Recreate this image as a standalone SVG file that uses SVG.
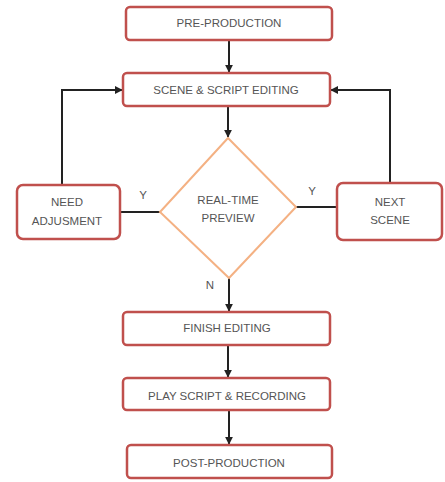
<svg xmlns="http://www.w3.org/2000/svg" width="445" height="482" viewBox="0 0 445 482">
<defs>
<marker id="ah" viewBox="0 0 10 10" refX="9" refY="5" markerWidth="4" markerHeight="4" orient="auto" markerUnits="strokeWidth">
<path d="M0,0 L10,5 L0,10 z" fill="#222"/>
</marker>
<style>
.box{fill:#fff;stroke:#c0504d;stroke-width:2.5}
.dia{fill:#fff;stroke:#f4b183;stroke-width:2}
.t{font-family:"Liberation Sans",Arial,sans-serif;font-size:11.5px;fill:#555;text-anchor:middle}
.c{fill:none;stroke:#222;stroke-width:2}
</style>
</defs>
<rect width="445" height="482" fill="#fff"/>
<g id="connectors">
<line class="c" x1="229" y1="40" x2="229" y2="72" marker-end="url(#ah)"/>
<line class="c" x1="228" y1="106" x2="228" y2="137" marker-end="url(#ah)"/>
<line class="c" x1="120" y1="212" x2="160" y2="212"/>
<line class="c" x1="296" y1="207" x2="337" y2="207"/>
<polyline class="c" points="62,185 62,90 122,90" marker-end="url(#ah)"/>
<polyline class="c" points="390,183 390,90 331,90" marker-end="url(#ah)"/>
<line class="c" x1="229" y1="278" x2="229" y2="311" marker-end="url(#ah)"/>
<line class="c" x1="228" y1="345" x2="228" y2="377" marker-end="url(#ah)"/>
<line class="c" x1="229" y1="410" x2="229" y2="444" marker-end="url(#ah)"/>
<text class="t" x="143" y="199">Y</text>
<text class="t" x="312" y="195">Y</text>
<text class="t" x="210" y="289">N</text>
</g>
<g id="pre">
<rect class="box" x="126" y="7" width="206" height="33" rx="4"/>
<text class="t" x="229" y="27">PRE-PRODUCTION</text>
</g>
<g id="scene">
<rect class="box" x="123" y="73" width="207" height="33" rx="4"/>
<text class="t" x="226" y="94">SCENE &amp; SCRIPT EDITING</text>
</g>
<g id="preview">
<polygon class="dia" points="228,138 296,207 229,278 160,212"/>
<text class="t" x="228" y="204">REAL-TIME</text>
<text class="t" x="228" y="222">PREVIEW</text>
</g>
<g id="adjust">
<rect class="box" x="17" y="185" width="103" height="54" rx="6"/>
<text class="t" x="67" y="206">NEED</text>
<text class="t" x="67" y="225">ADJUSMENT</text>
</g>
<g id="next">
<rect class="box" x="337" y="183" width="105" height="57" rx="6"/>
<text class="t" x="390" y="206">NEXT</text>
<text class="t" x="390" y="224">SCENE</text>
</g>
<g id="finish">
<rect class="box" x="123" y="312" width="207" height="33" rx="4"/>
<text class="t" x="227" y="332">FINISH EDITING</text>
</g>
<g id="play">
<rect class="box" x="123" y="378" width="207" height="32" rx="4"/>
<text class="t" x="227" y="400">PLAY SCRIPT &amp; RECORDING</text>
</g>
<g id="post">
<rect class="box" x="127" y="445" width="205" height="33" rx="4"/>
<text class="t" x="229" y="467">POST-PRODUCTION</text>
</g>
</svg>
